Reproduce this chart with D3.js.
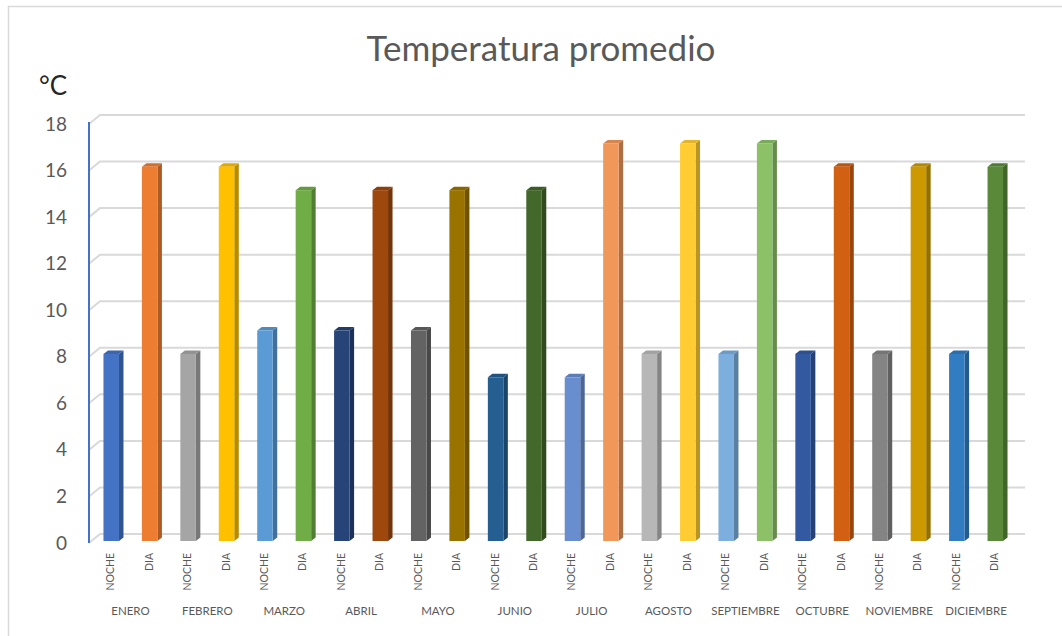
<!DOCTYPE html>
<html>
<head>
<meta charset="utf-8">
<script src="https://cdn.jsdelivr.net/npm/d3@7"></script>
<style>
  html, body { margin: 0; padding: 0; background: #fff; }
  svg { display: block; }
</style>
</head>
<body>
<div id="chart"></div>
<script>
const months = ["ENERO","FEBRERO","MARZO","ABRIL","MAYO","JUNIO","JULIO","AGOSTO","SEPTIEMBRE","OCTUBRE","NOVIEMBRE","DICIEMBRE"];
const periods = ["NOCHE","DIA"];
const nocheValues = [8, 8, 9, 9, 9, 7, 7, 8, 8, 8, 8, 8];
const diaValues   = [16, 16, 15, 15, 15, 15, 17, 17, 17, 16, 16, 16];
const barColors = [
  "#4472C4","#ED7D31","#A5A5A5","#FFC000","#5B9BD5","#70AD47",
  "#264478","#9E480E","#636363","#997300","#255E91","#43682B",
  "#698ED0","#F1975A","#B7B7B7","#FFCD33","#7CAFDD","#8CC168",
  "#335AA1","#D26012","#848484","#CC9A00","#327DC2","#5A8A39"
];
const yTicks = [0, 2, 4, 6, 8, 10, 12, 14, 16, 18];
const titleText = "Temperatura promedio";
const unitText = "°C";

const W = 1062, H = 636;
const svg = d3.select("#chart").append("svg").attr("width", W).attr("height", H);

// outer chart border (only top/left visible)
svg.append("rect").attr("x", 8.5).attr("y", 6.5).attr("width", 1100).attr("height", 700)
  .attr("fill", "none").attr("stroke", "#D9D9D9").attr("stroke-width", 1.5);

const font = "Lato, 'Open Sans', sans-serif";

// build bar data
const bars = [];
months.forEach((m, i) => {
  bars.push({ key: m + "|NOCHE", month: m, period: "NOCHE", value: nocheValues[i] });
  bars.push({ key: m + "|DIA", month: m, period: "DIA", value: diaValues[i] });
});
bars.forEach((b, i) => b.color = barColors[i]);

// scales
const gridX0 = 89, gridX1 = 1014;          // front plane
const depthDX = 11, depthDY = -9;          // back-plane offset
const yFront = d3.scaleLinear().domain([0, 18]).range([543, 124]);
const yBar = d3.scaleLinear().domain([0, 18]).range([541, 120]);
const xBar = d3.scaleBand().domain(bars.map(d => d.key)).range([93, 1015.5]);
const xMonth = d3.scaleBand().domain(months).range([93, 1015.5]);

// gridlines (3D: diagonal on left wall + horizontal on back wall)
const grid = svg.append("g");
yTicks.forEach(t => {
  const yf = yFront(t);
  grid.append("path")
    .attr("d", `M${gridX0},${yf} L${gridX0 + depthDX},${yf + depthDY} L${gridX1 + depthDX},${yf + depthDY}`)
    .attr("fill", "none").attr("stroke", "#D9D9D9").attr("stroke-width", 2);
});

// y axis line
svg.append("line").attr("x1", gridX0).attr("x2", gridX0)
  .attr("y1", yFront(18) - 2).attr("y2", yFront(0))
  .attr("stroke", "#4472C4").attr("stroke-width", 2);

// y axis labels via d3 axis
const yAxis = d3.axisLeft(yFront).tickValues(yTicks).tickSize(0).tickPadding(0);
const yg = svg.append("g").attr("transform", "translate(67,0)").call(yAxis);
yg.select(".domain").remove();
yg.selectAll("text").attr("font-family", font).attr("font-size", 19).attr("fill", "#595959");

// bars as 3D prisms
const fw = 15.5, sd = 4.5, td = 3.5;
const bg = svg.append("g");
bars.forEach(b => {
  const cx = xBar(b.key) + xBar.bandwidth() / 2;
  const x0 = cx - fw / 2 - 1, x1 = x0 + fw;
  const yt = yBar(b.value), yb = yBar(0);
  const c = d3.color(b.color);
  // side
  bg.append("path")
    .attr("d", `M${x1},${yt} L${x1 + sd},${yt - td} L${x1 + sd},${yb - td} L${x1},${yb} Z`)
    .attr("fill", c.darker(0.9));
  // top
  bg.append("path")
    .attr("d", `M${x0},${yt} L${x0 + sd},${yt - td} L${x1 + sd},${yt - td} L${x1},${yt} Z`)
    .attr("fill", c.darker(0.35));
  // front
  bg.append("rect").attr("x", x0).attr("y", yt).attr("width", fw).attr("height", yb - yt)
    .attr("fill", b.color);
});

// category (period) labels, rotated
const lg = svg.append("g");
bars.forEach(b => {
  const cx = xBar(b.key) + xBar.bandwidth() / 2 - 2;
  lg.append("text")
    .attr("transform", `translate(${cx + 4},553) rotate(-90)`)
    .attr("text-anchor", "end")
    .attr("font-family", font).attr("font-size", 10.5).attr("fill", "#595959")
    .text(b.period);
});

// month labels
months.forEach(m => {
  lg.append("text")
    .attr("x", xMonth(m) + xMonth.bandwidth() / 2 - 1)
    .attr("y", 615)
    .attr("text-anchor", "middle")
    .attr("font-family", font).attr("font-size", 11.5).attr("fill", "#595959")
    .text(m);
});

// title
svg.append("text").attr("x", 541).attr("y", 61).attr("text-anchor", "middle")
  .attr("font-family", font).attr("font-size", 35).attr("fill", "#595959")
  .text(titleText);

// unit
svg.append("text").attr("x", 39).attr("y", 95)
  .attr("font-family", font).attr("font-size", 26).attr("fill", "#262626")
  .text(unitText);
</script>
</body>
</html>
